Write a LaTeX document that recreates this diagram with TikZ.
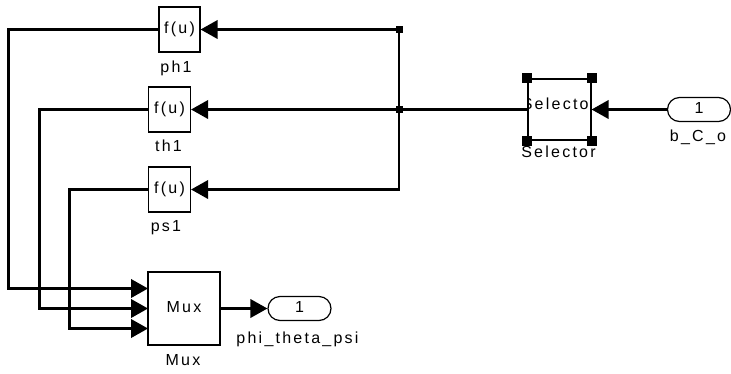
\documentclass[tikz,border=0pt]{standalone}
\usepackage{fontspec}
\newfontfamily\simfont[LetterSpace=14]{Liberation Sans}
\usetikzlibrary{arrows.meta}
\tikzset{
  blk/.style={draw,line width=1.2pt,inner sep=0pt,text height=11.5pt,text depth=3.5pt},
  port/.style={blk,rounded corners=12pt,minimum width=63pt,minimum height=24pt},
  wire/.style={line width=2.2pt},
  sig/.style={wire,-{Triangle[length=17pt,width=18.5pt]}},
  lbl/.style={inner sep=0pt,anchor=base},
  hdl/.style={fill,inner sep=0pt,minimum size=10pt},
  jn/.style={fill,inner sep=0pt,minimum size=7pt}
}

\begin{document}
\begin{tikzpicture}[x=1pt,y=-1pt,font=\simfont\fontsize{16}{18}\selectfont]
\path[use as bounding box,fill=white] (0,0) rectangle (731,373);
\node[blk,minimum width=41pt,minimum height=45pt] (ph1) at (179.5,29.5) {f(u)};
\node[blk,minimum width=42pt,minimum height=45pt] (th1) at (169.5,109.5) {f(u)};
\node[blk,minimum width=42pt,minimum height=45pt] (ps1) at (169.5,189.5) {f(u)};
\node[blk,minimum width=72pt,minimum height=73pt] (mux) at (184,308.5) {Mux};
\node[blk,minimum width=63pt,minimum height=61pt] (sel) at (559.5,109.5) {};
\node[port] (bco) at (699,109.5) {1};
\node[port] (out) at (299.5,308.5) {1};
\begin{scope}
\clip (sel.south west) rectangle (sel.north east);
\node[lbl] (seltxt) at (559,109.3) {Selector};
\end{scope}
\foreach \c [count=\i] in {north west,north east,south west,south east}
  \node[hdl] (hdl\i) at (sel.\c) {};
\coordinate (j1) at (399,29.5);
\coordinate (j2) at (399,109.5);
\coordinate (m1) at (148,288.5);
\coordinate (m2) at (148,308.5);
\coordinate (m3) at (148,328.5);
\draw[sig] (bco.west) -- (sel.east);
\draw[sig] (sel.west) -- (th1.east);
\draw[sig] (j2) -- (j1) -- (ph1.east);
\draw[sig] (j2) |- (ps1.east);
\node[jn] (jn1) at (j1) {};
\node[jn] (jn2) at (j2) {};
\draw[sig] (ph1.west) -| (8.5,288.5) -- (m1);
\draw[sig] (th1.west) -| (39.5,308.5) -- (m2);
\draw[sig] (ps1.west) -| (69.5,328.5) -- (m3);
\draw[sig] (mux.east) -- (out.west);
\node[lbl] (ph1lbl) at (176,72.5) {ph1};
\node[lbl] (th1lbl) at (168.5,151.5) {th1};
\node[lbl] (ps1lbl) at (166,231.5) {ps1};
\node[lbl] (muxlbl) at (183,365.5) {Mux};
\node[lbl] (sellbl) at (558.5,157.3) {Selector};
\node[lbl] (bcolbl) at (698,141.5) {b\_C\_o};
\node[lbl] (outlbl) at (297.5,343.3) {phi\_theta\_psi};
\end{tikzpicture}
\end{document}
